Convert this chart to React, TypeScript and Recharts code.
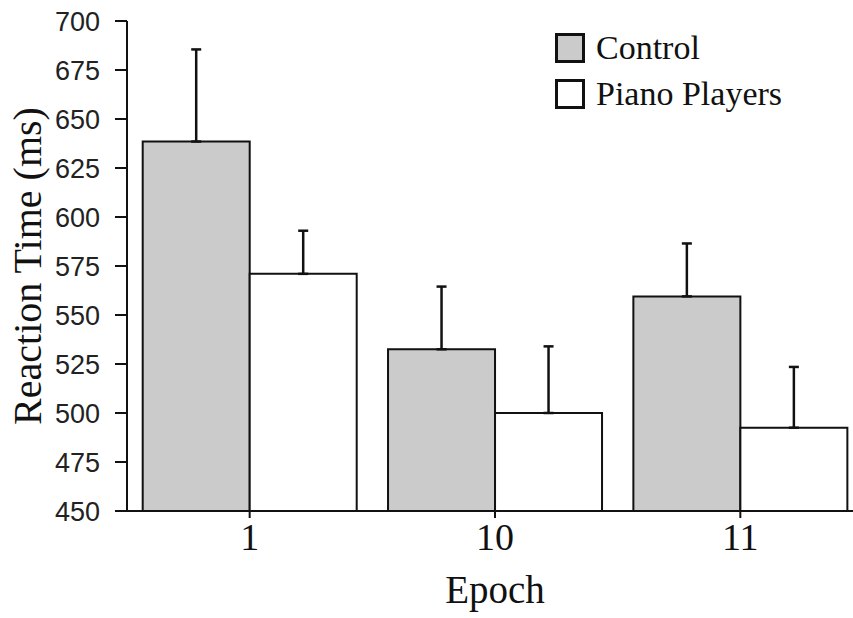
import {
  BarChart,
  Bar,
  XAxis,
  YAxis,
  ErrorBar,
  Legend,
  Label,
} from "recharts";

const epochs = ["1", "10", "11"];
const control = [638.5, 532.5, 559.5];
const controlErr = [47, 32, 27];
const piano = [571, 500, 492.5];
const pianoErr = [22, 34, 31];
const yTicks = [450, 475, 500, 525, 550, 575, 600, 625, 650, 675, 700];

const data = epochs.map((epoch, i) => ({
  epoch,
  control: control[i],
  controlErr: [0, controlErr[i]],
  piano: piano[i],
  pianoErr: [0, pianoErr[i]],
}));

const serif = '"Liberation Serif", "Times New Roman", serif';
const sans = '"Liberation Sans", Arial, sans-serif';

function KeyBox({ payload }: any) {
  return (
    <div style={{ fontFamily: serif, fontSize: 34, color: "#111" }}>
      {(payload || []).map((p: any) => (
        <div
          key={p.value}
          style={{ display: "flex", alignItems: "center", height: 46 }}
        >
          <div
            style={{
              width: 30,
              height: 30,
              boxSizing: "border-box",
              border: "3px solid #111",
              background: p.payload?.fill ?? p.color,
              marginRight: 11,
            }}
          />
          <span>{p.value}</span>
        </div>
      ))}
    </div>
  );
}

export default function App() {
  return (
    <div
      style={{
        position: "absolute",
        left: 0,
        top: 0,
        width: 853,
        height: 618,
        overflow: "hidden",
        background: "#fff",
      }}
    >
      <BarChart
        width={870}
        height={618}
        data={data}
        margin={{ top: 21, right: 7, bottom: 0, left: 0 }}
        barCategoryGap="6.4%"
        barGap={0}
      >
        <XAxis
          dataKey="epoch"
          height={107}
          stroke="#111"
          strokeWidth={2}
          tickSize={7}
          tickMargin={5}
          tick={{ fill: "#111", fontFamily: serif, fontSize: 38 }}
        >
          <Label
            value="Epoch"
            position="insideBottom"
            offset={15}
            style={{ fill: "#111", fontFamily: serif, fontSize: 39 }}
          />
        </XAxis>
        <YAxis
          width={127}
          domain={[450, 700]}
          ticks={yTicks}
          interval={0}
          stroke="#111"
          strokeWidth={2}
          tickSize={12}
          tickMargin={15}
          tick={{ fill: "#222", fontFamily: sans, fontSize: 27 }}
        >
          <Label
            value="Reaction Time (ms)"
            angle={-90}
            position="insideLeft"
            offset={27}
            style={{
              fill: "#111",
              fontFamily: serif,
              fontSize: 40,
              textAnchor: "middle",
            }}
          />
        </YAxis>
        <Legend
          layout="vertical"
          align="center"
          verticalAlign="middle"
          wrapperStyle={{ left: 555, top: 25, width: "auto" }}
          content={<KeyBox />}
        />
        <Bar
          dataKey="control"
          name="Control"
          fill="#cbcbcb"
          stroke="#111"
          strokeWidth={2}
          isAnimationActive={false}
        >
          <ErrorBar
            dataKey="controlErr"
            direction="y"
            width={5}
            stroke="#111"
            strokeWidth={2.5}
          />
        </Bar>
        <Bar
          dataKey="piano"
          name="Piano Players"
          fill="#ffffff"
          stroke="#111"
          strokeWidth={2}
          isAnimationActive={false}
        >
          <ErrorBar
            dataKey="pianoErr"
            direction="y"
            width={5}
            stroke="#111"
            strokeWidth={2.5}
          />
        </Bar>
      </BarChart>
    </div>
  );
}
